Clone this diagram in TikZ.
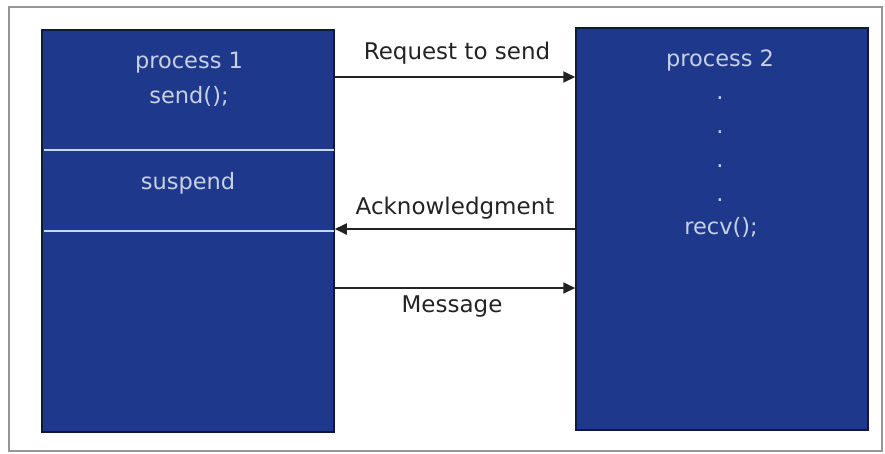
\documentclass[tikz,border=0pt]{standalone}
\usepackage{fontspec}
\setmainfont{DejaVu Sans}
\usetikzlibrary{arrows.meta}
\definecolor{procblue}{RGB}{30,56,140}
\definecolor{procedge}{RGB}{15,25,60}
\definecolor{boxtext}{RGB}{200,208,228}
\definecolor{bandline}{RGB}{200,215,245}
\definecolor{framegray}{RGB}{150,150,150}
\definecolor{arrowgray}{RGB}{35,35,35}
\tikzset{
  procbox/.style={draw=procedge, fill=procblue, line width=1.5pt, inner sep=0pt,
    minimum width=292pt, minimum height=402pt},
  boxlabel/.style={text=boxtext, font=\fontsize{22.5}{26}\selectfont, inner sep=0pt},
  msglabel/.style={text=arrowgray, font=\fontsize{23}{27}\selectfont, inner sep=0pt},
  msgarrow/.style={draw=arrowgray, line width=1.8pt, -{Triangle[length=12pt,width=11pt]}},
  bandedge/.style={draw=bandline, line width=1.6pt},
  frame/.style={draw=framegray, line width=1.4pt}
}
\begin{document}
\begin{tikzpicture}[x=1pt,y=-1pt]
\useasboundingbox (0,0) rectangle (885,453);
\draw[frame] (9,7) rectangle (882,451);
% processes
\node[procbox] (p1) at (188,231) {};
\node[procbox] (p2) at (722,229) {};
% suspend band
\node[inner sep=0pt, minimum width=290pt, minimum height=81pt] (band) at (189,190.5) {};
\draw[bandedge] (band.north west) -- (band.north east);
\draw[bandedge] (band.south west) -- (band.south east);
% texts in process 1
\node[boxlabel] (t1) at (189,63) {process 1};
\node[boxlabel] (t2) at (189,96) {send();};
\node[boxlabel] (t3) at (188,183) {suspend};
% texts in process 2
\node[boxlabel] (u1) at (720,60) {process 2};
\node[boxlabel] (d1) at (720,98) {.};
\node[boxlabel] (d2) at (720,132) {.};
\node[boxlabel] (d3) at (720,166) {.};
\node[boxlabel] (d4) at (720,200) {.};
\node[boxlabel] (u2) at (721,227) {recv();};
% messages
\coordinate (rq) at (455,77);
\coordinate (ak) at (455,229);
\coordinate (ms) at (455,288);
\draw[msgarrow] (p1.east |- rq) -- (p2.west |- rq);
\draw[msgarrow] (p2.west |- ak) -- (p1.east |- ak);
\draw[msgarrow] (p1.east |- ms) -- (p2.west |- ms);
\node[msglabel] (lrq) at (457,53) {Request to send};
\node[msglabel] (lak) at (455,208) {Acknowledgment};
\node[msglabel] (lms) at (452,307) {Message};
\end{tikzpicture}
\end{document}
